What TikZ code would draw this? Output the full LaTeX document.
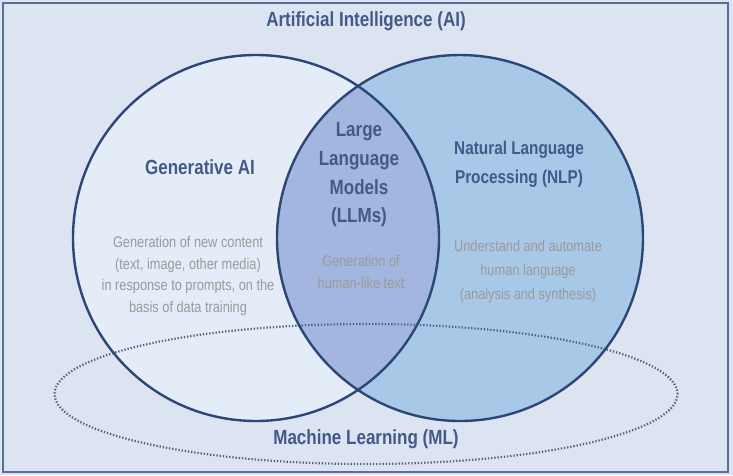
\documentclass[tikz,border=0pt]{standalone}
\usepackage{fontspec}
\usetikzlibrary{shapes.geometric}
\setmainfont{Liberation Sans}[FakeStretch=0.83]
\definecolor{bgfill}{HTML}{DCE4F2}
\definecolor{frame}{HTML}{5B6E96}
\definecolor{genfill}{HTML}{E3ECF7}
\definecolor{nlpfill}{HTML}{A8C8E7}
\definecolor{lensfill}{HTML}{A2B6E0}
\definecolor{outline}{HTML}{2C4677}
\definecolor{dotcol}{HTML}{4E5F80}
\definecolor{headcol}{HTML}{44598A}
\definecolor{graytext}{HTML}{9A9A9A}
\begin{document}
\begin{tikzpicture}[x=1pt,y=-1pt,
  headtxt/.style={inner sep=0pt, align=center, text=headcol,
    font=\fontsize{20.5}{28.7}\selectfont\bfseries},
  smallhead/.style={inner sep=0pt, align=center, text=headcol,
    font=\fontsize{18.5}{29}\selectfont\bfseries},
  graytxt/.style={inner sep=0pt, align=center, text=graytext,
    font=\fontsize{15.4}{21.5}\selectfont},
  ring/.style={circle, minimum size=366pt, inner sep=0pt}]
\useasboundingbox (0,0) rectangle (733,475);
\fill[bgfill] (0,0) rectangle (733,475);
\draw[frame, line width=2pt] (3,3) rectangle (728,472);
% circles
\node[ring, fill=genfill] (gen) at (256,238) {};
\node[ring, fill=nlpfill] (nlp) at (460,238) {};
\begin{scope}
  \clip (gen.center) circle (183pt);
  \fill[lensfill] (nlp.center) circle (183pt);
\end{scope}
% machine learning ellipse
\node[ellipse, draw=dotcol, line width=2.2pt,
  dash pattern=on 1.3pt off 1.9pt, minimum width=623pt, minimum height=140pt,
  inner sep=0pt] (ml) at (366,394) {};
\draw[outline, line width=2.4pt] (gen.center) circle (183pt);
\draw[outline, line width=2.4pt] (nlp.center) circle (183pt);
% texts
\node[headtxt] (ai) at (366,21) {Artificial Intelligence (AI)};
\node[headtxt] (genl) at (200,167) {Generative AI};
\node[graytxt] (gent) at (188,276) {Generation of new content\\(text, image, other media)\\in response to prompts, on the\\basis of data training};
\node[headtxt] (llml) at (359,175) {Large\\Language\\Models\\(LLMs)};
\node[graytxt] (llmt) at (361,272) {Generation of\\human-like text};
\node[smallhead] (nlpl) at (519,164) {Natural Language\\Processing (NLP)};
\node[graytxt, font=\fontsize{15.4}{24}\selectfont] (nlpt) at (528,272) {Understand and automate\\human language\\(analysis and synthesis)};
\node[headtxt] (mll) at (366,439) {Machine Learning (ML)};
\end{tikzpicture}
\end{document}
